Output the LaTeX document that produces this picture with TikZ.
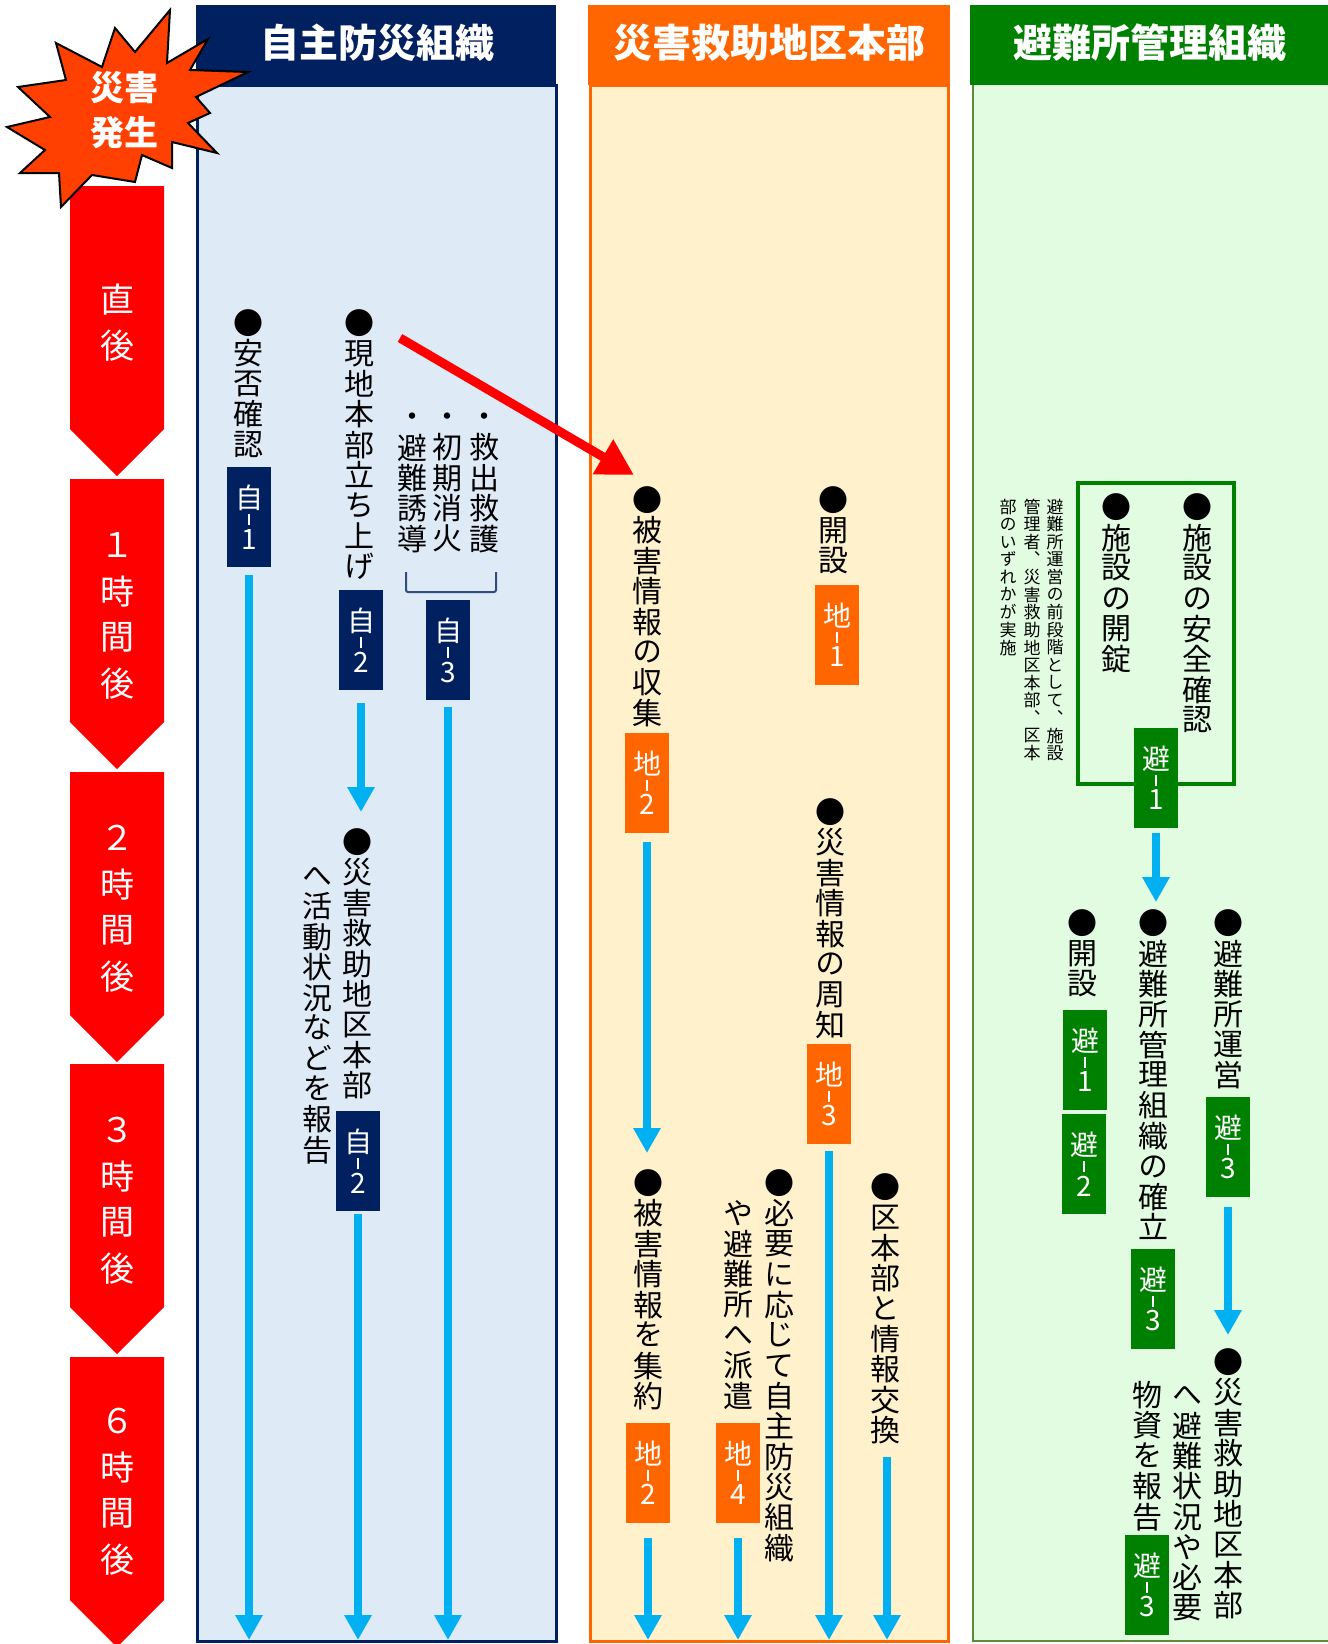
\documentclass[tikz,border=0pt]{standalone}
\usepackage{fontspec}
\newfontfamily\jp{Noto Sans CJK JP}[RawFeature={+vert}]
\newfontfamily\jph{Noto Sans CJK JP}
\usetikzlibrary{arrows.meta}
\definecolor{navy}{HTML}{002060}
\definecolor{bodyA}{HTML}{DEEAF6}
\definecolor{orng}{HTML}{FF6600}
\definecolor{bodyB}{HTML}{FFF1CC}
\definecolor{grn}{HTML}{008000}
\definecolor{bodyC}{HTML}{E2FCE2}
\definecolor{olive}{HTML}{5E8B3A}
\definecolor{arrowblue}{HTML}{00B0F0}
\definecolor{starred}{HTML}{FF4000}
\newlength\vp
\setlength\vp{15.2pt}
\makeatletter
\def\vcol#1{\vbox{\offinterlineskip\vcol@a#1\relax}}
\def\vcol@a#1{\ifx\relax#1\else\hbox to\vp{\hss\vbox to\vp{\vss\hbox{#1\vphantom{国}}\vss}\hss}\expandafter\vcol@a\fi}
\makeatother
\newcommand\tg[2]{\vbox{\offinterlineskip\hbox to 20pt{\hss#1\hss}\kern1.8pt\hbox to 20pt{\hss\vrule width 1pt height 5.5pt\hss}\kern1.8pt\hbox to 20pt{\hss#2\hss}}}
\begin{document}
\begin{tikzpicture}[x=0.5pt,y=-0.5pt,
  vtxt/.style={anchor=north,inner sep=0,outer sep=0,text=black,font=\jp\fontsize{15}{15}\selectfont},
  note/.style={anchor=north,inner sep=0,outer sep=0,text=black,font=\jp\fontsize{8.5}{8.5}\selectfont\setlength\vp{8.8pt}},
  tline/.style={anchor=north,inner sep=0,text=white,font=\jph\fontsize{17}{17}\selectfont\setlength\vp{23pt}},
  hdr/.style={inner sep=0,text=white,font=\jph\bfseries\fontsize{19.5}{19.5}\selectfont},
  tag/.style={minimum width=22pt,minimum height=50pt,inner sep=0,text=white,font=\jph\fontsize{14}{14}\selectfont},
  barrow/.style={draw=arrowblue,line width=4pt,-{Triangle[length=12.5pt,width=13pt]}},
  rarrow/.style={draw=red,line width=4.5pt,-{Triangle[length=18pt,width=19pt]}}]
\useasboundingbox (0,0) rectangle (1328,1644);
\fill[white] (0,0) rectangle (1328,1644);
% column bodies
\filldraw[fill=bodyA,draw=navy,line width=1.5pt] (197,85) rectangle (556,1641);
\filldraw[fill=bodyB,draw=orng,line width=1.5pt] (590,85) rectangle (948,1641);
\fill[bodyC] (973,85) rectangle (1328,1641);
\draw[olive,line width=1pt] (973,85) -- (973,1641) -- (1328,1641);
% headers
\fill[navy] (196,5) rectangle (556,85);
\fill[orng] (588,5) rectangle (950,85);
\fill[grn] (970,5) rectangle (1328,85);
\node[hdr] (h1) at (377,43) {自主防災組織};
\node[hdr] (h2) at (769,43) {災害救助地区本部};
\node[hdr] (h3) at (1150,43) {避難所管理組織};
% timeline chevrons
\foreach \T in {186,479,772,1064,1357}{
  \fill[red] (70,\T) -- (164,\T) -- (164,\T+243) -- (117,\T+290) -- (70,\T+243) -- cycle;}
\node[tline] (tl1) at (117,276) {\vcol{直後}};
\node[tline] (tl2) at (117,522) {\vcol{１時間後}};
\node[tline] (tl3) at (117,815) {\vcol{２時間後}};
\node[tline] (tl4) at (117,1107) {\vcol{３時間後}};
\node[tline] (tl5) at (117,1398) {\vcol{６時間後}};
% starburst
\filldraw[fill=starred,draw=black,line width=1pt,line join=miter]
 (170,10) -- (167,63) -- (208,39) -- (190,70) -- (248,72) -- (196,97) -- (210,113) -- (188,123)
 -- (217,153) -- (172,142) -- (172,168) -- (142,155) -- (135,182) -- (92,175) -- (61,207)
 -- (59,173) -- (20,173) -- (45,150) -- (7,127) -- (50,117) -- (18,87) -- (66,80) -- (56,43)
 -- (102,67) -- (115,28) -- (135,52) -- cycle;
\node[text=white,font=\jph\bfseries\fontsize{17}{17}\selectfont,inner sep=0] (s1) at (124,88) {災害};
\node[text=white,font=\jph\bfseries\fontsize{17}{17}\selectfont,inner sep=0] (s2) at (124,133) {発生};
% ---------- column 1
\node[vtxt] (a1) at (248,308) {\vcol{●安否確認}};
\node[vtxt] (a2) at (359,308) {\vcol{●現地本部立ち上げ}};
\node[vtxt] (a3a) at (484,402) {\vcol{・救出救護}};
\node[vtxt] (a3b) at (447,402) {\vcol{・初期消火}};
\node[vtxt] (a3c) at (412,402) {\vcol{・避難誘導}};
\draw[navy!80,line width=1pt,rounded corners=1pt] (406,572) -- (406,592) -- (496,592) -- (496,572);
\node[vtxt] (a4a) at (357,827) {\vcol{●災害救助地区本部}};
\node[vtxt] (a4b) at (317,861) {\vcol{へ活動状況などを報告}};
\node[tag,fill=navy] (t1) at (249,517) {\tg{自}{1}};
\node[tag,fill=navy] (t2) at (361,640) {\tg{自}{2}};
\node[tag,fill=navy] (t3) at (448,650) {\tg{自}{3}};
\node[tag,fill=navy] (t4) at (358,1161) {\tg{自}{2}};
\coordinate (e11) at (249,1640);
\coordinate (e12) at (361,812);
\coordinate (e13) at (448,1640);
\coordinate (e14) at (358,1640);
\draw[barrow,shorten <=4pt] (t1.south) -- (e11);
\draw[barrow,shorten <=6.5pt] (t2.south) -- (e12);
\draw[barrow,shorten <=3.5pt] (t3.south) -- (e13);
\draw[barrow,shorten <=1.5pt] (t4.south) -- (e14);
% red arrow
\coordinate (rs) at (400,338);
\coordinate (re) at (634,475);
\draw[rarrow] (rs) -- (re);
% ---------- column 2
\node[vtxt] (b1) at (647,485) {\vcol{●被害情報の収集}};
\node[vtxt] (b2) at (833,485) {\vcol{●開設}};
\node[vtxt] (b3) at (830,797) {\vcol{●災害情報の周知}};
\node[vtxt] (b4) at (648,1168) {\vcol{●被害情報を集約}};
\node[vtxt] (b5a) at (779,1168) {\vcol{●必要に応じて自主防災組織}};
\node[vtxt] (b5b) at (738,1198) {\vcol{や避難所へ派遣}};
\node[vtxt] (b6) at (885,1172) {\vcol{●区本部と情報交換}};
\node[tag,fill=orng] (u1) at (647,783) {\tg{地}{2}};
\node[tag,fill=orng] (u2) at (837,635) {\tg{地}{1}};
\node[tag,fill=orng] (u3) at (829,1094) {\tg{地}{3}};
\node[tag,fill=orng] (u4) at (648,1473) {\tg{地}{2}};
\node[tag,fill=orng] (u5) at (738,1473) {\tg{地}{4}};
\coordinate (e21) at (647,1153);
\coordinate (e22) at (829,1640);
\coordinate (e23) at (648,1640);
\coordinate (e24) at (738,1640);
\coordinate (e25) at (887,1640);
\draw[barrow,shorten <=4.5pt] (u1.south) -- (e21);
\draw[barrow,shorten <=3.5pt] (u3.south) -- (e22);
\draw[barrow,shorten <=7.5pt] (u4.south) -- (e23);
\draw[barrow,shorten <=7.5pt] (u5.south) -- (e24);
\draw[barrow,shorten <=5.5pt] (b6.south -| e25) -- (e25);
% ---------- column 3
\draw[grn,line width=1.7pt] (1078,483) rectangle (1234,784);
\node[vtxt] (c1) at (1197,492) {\vcol{●施設の安全確認}};
\node[vtxt] (c2) at (1116,492) {\vcol{●施設の開錠}};
\node[note] (n1) at (1055,498) {\vcol{避難所運営の前段階として、施設}};
\node[note] (n2) at (1032,498) {\vcol{管理者、災害救助地区本部、区本}};
\node[note] (n3) at (1008,498) {\vcol{部のいずれかが実施}};
\node[tag,fill=grn] (g1) at (1156,778) {\tg{避}{1}};
\coordinate (e31) at (1156,902);
\draw[barrow,shorten <=2.5pt] (g1.south) -- (e31);
\node[vtxt] (c3) at (1082,908) {\vcol{●開設}};
\node[vtxt] (c4) at (1153,908) {\vcol{●避難所管理組織の確立}};
\node[vtxt] (c5) at (1228,908) {\vcol{●避難所運営}};
\node[tag,fill=grn] (g2) at (1085,1060) {\tg{避}{1}};
\node[tag,fill=grn] (g3) at (1084,1164) {\tg{避}{2}};
\node[tag,fill=grn] (g4) at (1153,1299) {\tg{避}{3}};
\node[tag,fill=grn] (g5) at (1228,1147) {\tg{避}{3}};
\coordinate (e32) at (1228,1335);
\draw[barrow,shorten <=5pt] (g5.south) -- (e32);
\node[vtxt] (c6a) at (1228,1347) {\vcol{●災害救助地区本部}};
\node[vtxt] (c6b) at (1187,1380) {\vcol{へ避難状況や必要}};
\node[vtxt] (c6c) at (1147,1380) {\vcol{物資を報告}};
\node[tag,fill=grn] (g6) at (1147,1585) {\tg{避}{3}};
\end{tikzpicture}
\end{document}
